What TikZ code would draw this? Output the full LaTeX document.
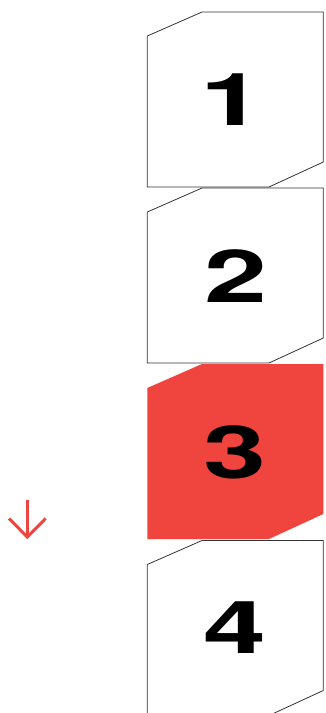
\documentclass[tikz,border=0pt]{standalone}
\usepackage{fontspec}
\newfontfamily\digitfont{TeX Gyre Heros}[FakeStretch=1.55]
\definecolor{accent}{RGB}{240,69,62}
\definecolor{edge}{RGB}{51,51,51}
\tikzset{
  panel/.style={draw=edge, line width=0.8pt, fill=white},
  panelhot/.style={fill=accent, draw=none},
  digit/.style={font=\digitfont\bfseries\fontsize{73}{73}\selectfont, inner sep=0pt, anchor=center},
  downarrow/.style={draw=accent, line width=3pt},
}
\newcommand{\panelpath}[1]{(202,#1) -- (323.3,#1) -- (323.3,#1+150) -- (269,#1+175) -- (147.3,#1+175) -- (147.3,#1+24) -- cycle}
\begin{document}
\begin{tikzpicture}[x=1pt,y=-1pt]
\useasboundingbox (0,0) rectangle (325,713);
\fill[white] (0,0) rectangle (325,713);
\draw[panel] \panelpath{12};
\draw[panel] \panelpath{188};
\fill[panelhot] \panelpath{364};
\draw[panel] \panelpath{540.5};
\node[digit] (d1) at (232,100) {1};
\node[digit] (d2) at (236,276) {2};
\node[digit] (d3) at (235,452) {3};
\node[digit] (d4) at (235,628) {4};
\coordinate (atop) at (27.3,500);
\coordinate (atip) at (27.3,537);
\coordinate (aleft) at (9,518.5);
\coordinate (aright) at (45.6,518.5);
\draw[downarrow] (atop) -- (atip);
\draw[downarrow, line join=miter] (aleft) -- (atip) -- (aright);
\end{tikzpicture}
\end{document}
